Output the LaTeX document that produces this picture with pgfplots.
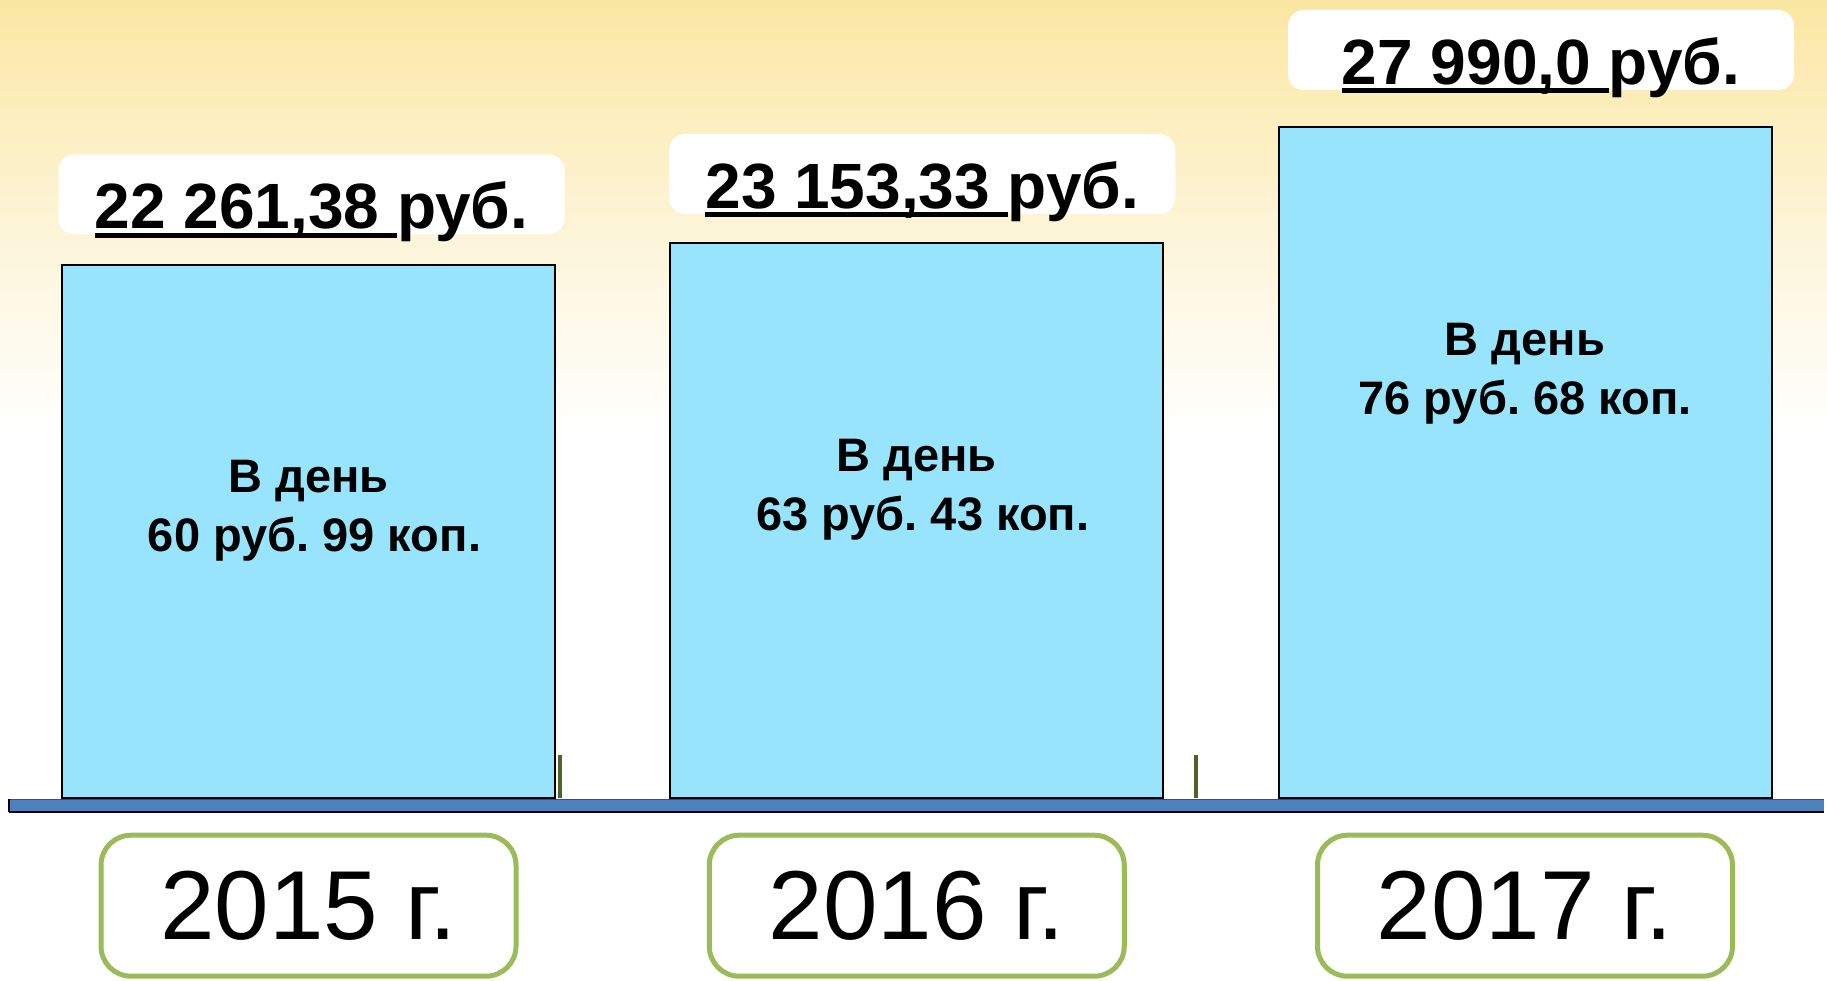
\documentclass[border=0pt]{standalone}
\usepackage{pgfplots}
\pgfplotsset{compat=1.18}
\usepackage{fontspec}
\setmainfont{Liberation Sans}
\frenchspacing
\definecolor{barblue}{HTML}{98E4FD}
\definecolor{stripblue}{HTML}{4F81BD}
\definecolor{boxgreen}{HTML}{9BBB59}
\definecolor{tickolive}{HTML}{4F6228}
\definecolor{bgtop}{HTML}{FBE7A3}
\definecolor{bgmid}{HTML}{FDF4D6}
\newcommand\ul[1]{\setbox0\hbox{#1}\rlap{\rule[-4.5pt]{\wd0}{2.5pt}}\box0}
\begin{document}
\begin{tikzpicture}
\fill[white] (0pt,-91pt) rectangle (913.5pt,399pt);
\shade[top color=bgtop, bottom color=white, middle color=bgmid] (0pt,180pt) rectangle (913.5pt,399pt);
\begin{axis}[
  at={(0pt,0pt)}, anchor=south west,
  scale only axis, width=913.5pt, height=399pt,
  xmin=-0.5072, xmax=2.4965, ymin=0, ymax=33300,
  axis line style={draw=none}, major tick length=0pt,
  ytick=\empty, xtick={0,1,2},
  xticklabels={2015 г.,2016 г.,2017 г.},
  xticklabel style={draw=boxgreen, line width=2.5pt, fill=white,
    rounded corners=15pt, minimum width=207.5pt, minimum height=70.5pt,
    inner sep=0pt, anchor=north, yshift=-17.25pt, text=black,
    font=\fontsize{49}{58}\selectfont},
  clip=false]
\addplot[ybar, bar width=0.8105, fill=barblue, draw=black, line width=1pt]
  coordinates {(0,22261.38) (1,23153.33) (2,27990)};
% value labels
\node[fill=white, rounded corners=8pt, minimum width=253pt, minimum height=40pt, inner sep=0pt, anchor=south]
  at ([xshift=1.5pt,yshift=15pt]axis cs:0,22261.38) {};
\node[anchor=base, font=\bfseries\fontsize{32}{38}\selectfont]
  at ([xshift=1.5pt,yshift=18pt]axis cs:0,22261.38) {\ul{22 261,38 }руб.};
\node[fill=white, rounded corners=8pt, minimum width=253pt, minimum height=40pt, inner sep=0pt, anchor=south]
  at ([xshift=2.75pt,yshift=14.5pt]axis cs:1,23153.33) {};
\node[anchor=base, font=\bfseries\fontsize{32}{38}\selectfont]
  at ([xshift=2.75pt,yshift=17.5pt]axis cs:1,23153.33) {\ul{23 153,33 }руб.};
\node[fill=white, rounded corners=8pt, minimum width=253pt, minimum height=40pt, inner sep=0pt, anchor=south]
  at ([xshift=8pt,yshift=18.5pt]axis cs:2,27990) {};
\node[anchor=base, font=\bfseries\fontsize{32}{38}\selectfont]
  at ([xshift=8pt,yshift=21.5pt]axis cs:2,27990) {\ul{27 990,0 }руб.};
% per-day texts
\node[anchor=base, font=\bfseries\fontsize{23.5}{29.5}\selectfont]
  at ([yshift=-114pt]axis cs:0,22261.38) {В день};
\node[anchor=base, font=\bfseries\fontsize{23.5}{29.5}\selectfont]
  at ([xshift=3pt,yshift=-143.5pt]axis cs:0,22261.38) {60 руб. 99 коп.};
\node[anchor=base, font=\bfseries\fontsize{23.5}{29.5}\selectfont]
  at ([yshift=-114pt]axis cs:1,23153.33) {В день};
\node[anchor=base, font=\bfseries\fontsize{23.5}{29.5}\selectfont]
  at ([xshift=3pt,yshift=-143.5pt]axis cs:1,23153.33) {63 руб. 43 коп.};
\node[anchor=base, font=\bfseries\fontsize{23.5}{29.5}\selectfont]
  at ([yshift=-114pt]axis cs:2,27990) {В день};
\node[anchor=base, font=\bfseries\fontsize{23.5}{29.5}\selectfont]
  at ([yshift=-143.5pt]axis cs:2,27990) {76 руб. 68 коп.};
\end{axis}
% baseline strip and small ticks
\fill[stripblue] (4.5pt,-7pt) rectangle (912pt,-0.5pt);
\draw[black!70, line width=0.6pt] (4.5pt,-0.5pt) -- (912pt,-0.5pt);
\draw[black, line width=1.2pt] (4.5pt,-7pt) -- (912pt,-7pt);
\draw[black, line width=0.8pt] (4.5pt,-7pt) -- (4.5pt,-0.5pt);
\draw[tickolive, line width=2pt] (280pt,0pt) -- (280pt,21.5pt);
\draw[tickolive, line width=2pt] (598pt,0pt) -- (598pt,21.5pt);
\end{tikzpicture}
\end{document}
